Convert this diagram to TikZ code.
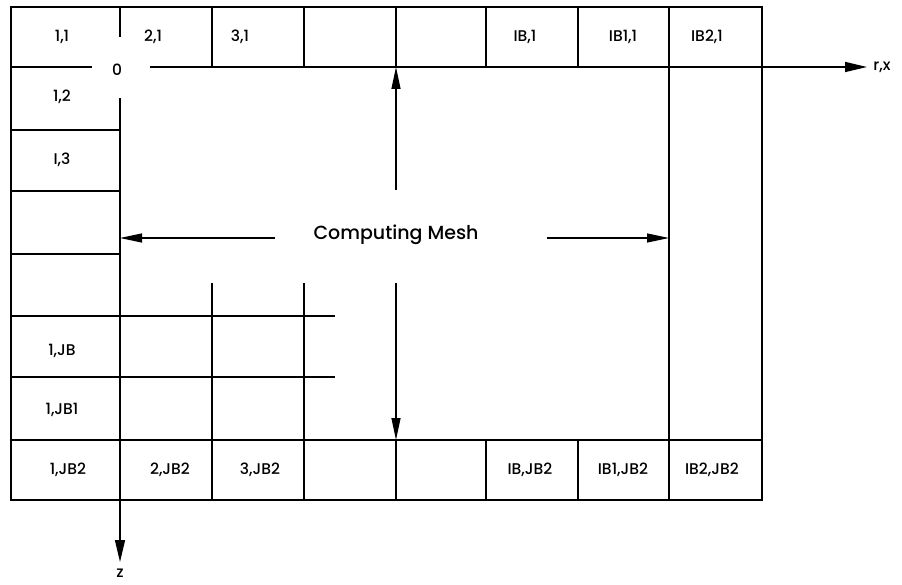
\documentclass[tikz,border=0pt]{standalone}
\usepackage{fontspec}
\setmainfont{Poppins Medium}
\usetikzlibrary{arrows.meta}

\begin{document}
\begin{tikzpicture}[x=1pt,y=-1pt,line cap=butt,line join=miter,
  font=\fontsize{15.5}{18}\selectfont,
  grid/.style={line width=1.5pt},
  axis/.style={line width=1.5pt,-{Triangle[length=22pt,width=10pt]}},
  dim/.style={line width=1.2pt,-{Triangle[length=22pt,width=9pt]}},
  lab/.style={inner sep=1pt}]
  \path[use as bounding box] (0,0) rectangle (902,585);
  % outer frame and the boundary rows / columns
  \draw[grid] (120,7)--(11,7)--(11,500)--(762,500)--(762,7)--(120,7);
  \draw[grid] (11,440)--(762,440);
  \foreach \x in {212,304,396,486,578,669}
    \draw[grid] (\x,7)--(\x,67);
  \draw[grid] (120,7)--(120,37);
  \draw[grid] (669,67)--(669,440);
  \foreach \x in {396,486,578,669}
    \draw[grid] (\x,440)--(\x,500);
  \foreach \y in {130,191,254}
    \draw[grid] (11,\y)--(120,\y);
  \foreach \y in {316,377}
    \draw[grid] (11,\y)--(335,\y);
  \foreach \x in {212,304}
    \draw[grid] (\x,283)--(\x,500);
  % axes
  \node[lab] (O) at (117,70) {0};
  \node[lab] (rx) at (882,67) {r,x};
  \node[lab] (z) at (120,573) {z};
  \coordinate (Ol) at (92,67);
  \coordinate (Or) at (150,67);
  \coordinate (Od) at (120,98);
  \coordinate (rtip) at (867,67);
  \coordinate (ztip) at (120,562);
  \draw[grid] (11,67)--(Ol);
  \draw[axis] (Or)--(rtip);
  \draw[axis] (Od)--(ztip);
  % computing mesh and its extent
  \node[lab,font=\fontsize{19}{22}\selectfont] (mesh) at (396,235) {Computing Mesh};
  \coordinate (nS) at (396,190);
  \coordinate (nT) at (396,67);
  \coordinate (sS) at (396,283);
  \coordinate (sT) at (396,440);
  \coordinate (wS) at (275,238);
  \coordinate (wT) at (120,238);
  \coordinate (eS) at (547,238);
  \coordinate (eT) at (669,238);
  \draw[dim] (nS)--(nT);
  \draw[dim] (sS)--(sT);
  \draw[dim] (wS)--(wT);
  \draw[dim] (eS)--(eT);
  % cell labels
  \foreach \x/\t/\n in {62/{1,1}/c11,153/{2,1}/c21,240/{3,1}/c31,
      525/{IB,1}/cIB1,623/{IB1,1}/cIBa1,707/{IB2,1}/cIBb1}
    \node[lab] (\n) at (\x,37) {\t};
  \foreach \x/\t/\n in {68/{1,JB2}/c1JBb,170/{2,JB2}/c2JBb,260/{3,JB2}/c3JBb,
      530/{IB,JB2}/cIBJBb,623/{IB1,JB2}/cIBaJBb,712/{IB2,JB2}/cIBbJBb}
    \node[lab] (\n) at (\x,470) {\t};
  \foreach \y/\t/\n in {97/{1,2}/c12,160/{I,3}/c13,351/{1,JB}/c1JB,410/{1,JB1}/c1JBa}
    \node[lab] (\n) at (62,\y) {\t};
\end{tikzpicture}
\end{document}
